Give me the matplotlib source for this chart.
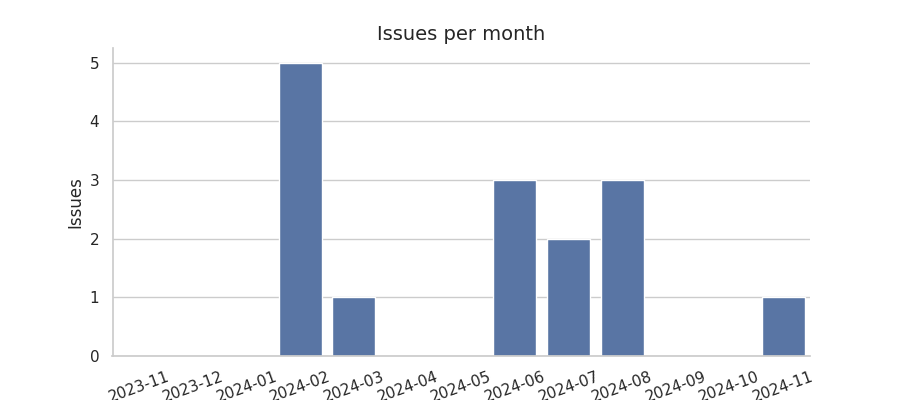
import matplotlib

matplotlib.use("Agg")

import matplotlib.pyplot as plt
import seaborn as sns

months = [
    "2023-11", "2023-12", "2024-01", "2024-02", "2024-03", "2024-04", "2024-05",
    "2024-06", "2024-07", "2024-08", "2024-09", "2024-10", "2024-11",
]
issues = [0, 0, 0, 5, 1, 0, 0, 3, 2, 3, 0, 0, 1]

sns.set_theme(style="whitegrid")

fig, ax = plt.subplots(figsize=(9, 4), dpi=100)
sns.barplot(x=months, y=issues, color="#4c72b0", ax=ax)
ax.set_title("Issues per month", fontsize=14)
ax.set_ylabel("Issues")
ax.set_xlabel("")
ax.tick_params(axis="x", rotation=20)
sns.despine(ax=ax)
fig.subplots_adjust(left=0.125, right=0.9, top=0.88, bottom=0.11)
fig.savefig("out.png", dpi=100)
